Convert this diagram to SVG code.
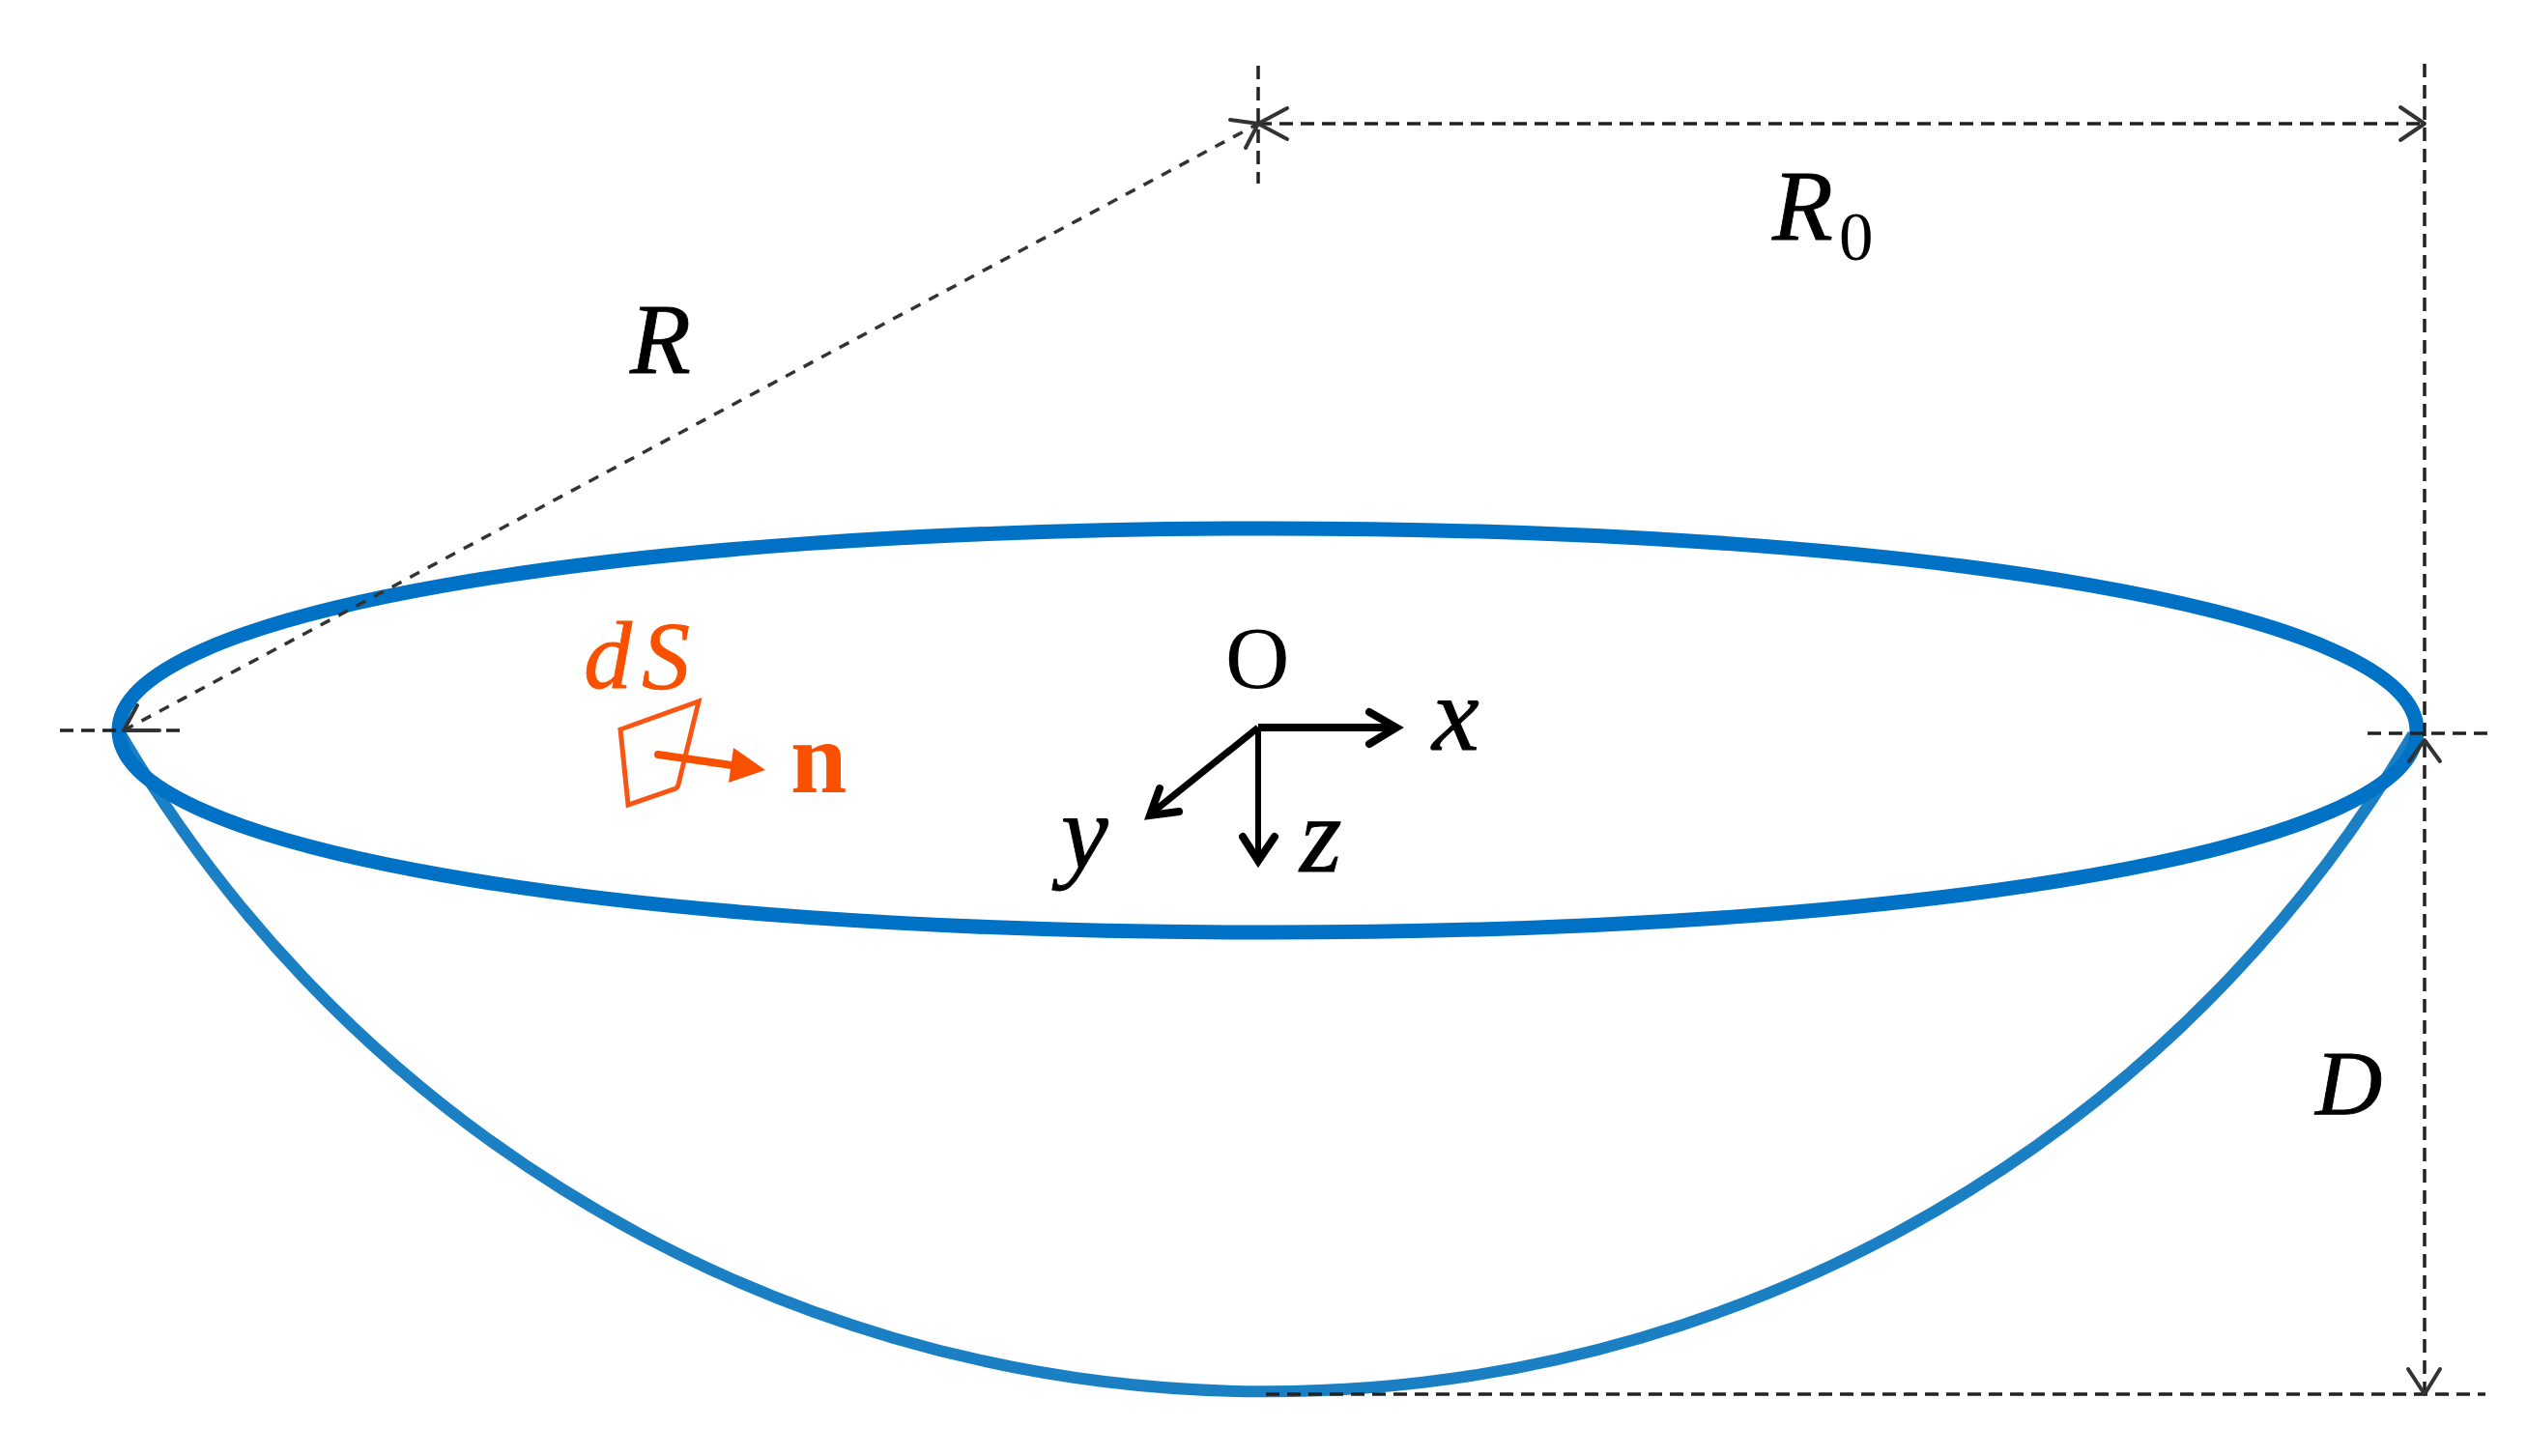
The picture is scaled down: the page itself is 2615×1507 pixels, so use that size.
<svg xmlns="http://www.w3.org/2000/svg" width="2615" height="1507" viewBox="0 0 2615 1507">
<style>
.d{fill:none;stroke:#222;stroke-width:3.5;stroke-dasharray:14 8}
.r{fill:none;stroke:#333;stroke-width:3.5;stroke-dasharray:11 10}
.h{fill:none;stroke:#333;stroke-width:4;stroke-linecap:round;stroke-linejoin:round}
.a{fill:none;stroke:#000}
.ah{fill:none;stroke:#000;stroke-width:8;stroke-linecap:round;stroke-linejoin:miter}
.t{font-family:"Liberation Serif",serif;font-style:italic;fill:#000;stroke:#000;stroke-width:.8}
.u{font-family:"Liberation Serif",serif;fill:#000}
</style>
<rect width="2615" height="1507" fill="#fff"/>
<g id="bowl"><path d="M125 760A1374 1374 0 0 0 2497 760" fill="none" stroke="#1b80c3" stroke-width="12"/></g>
<g id="rim"><path d="M123 756C123 635 622 547 1312 547C2002 547 2501 635 2501 756C2501 877 2002 965 1312 965C622 965 123 877 123 756Z" fill="none" stroke="#0072c6" stroke-width="15"/></g>
<g id="connectors">
<path class="d" d="M1302 68V190"/>
<path class="d" d="M1302 128H2509"/>
<path class="d" d="M2509 66V1443"/>
<path class="d" d="M1310 1443H2572"/>
<path class="r" d="M128 756L1302 128"/>
<path class="d" d="M62 756H186"/>
<path class="d" d="M2450 759H2576"/>
<path class="h" d="M1273 124L1302 128L1289 153M1332 112L1302 128L1332 144"/>
<path class="h" d="M2484 111L2509 128L2484 145"/>
<path class="h" d="M2492 1417L2509 1443L2525 1417"/>
<path class="h" d="M2493 788L2509 766L2525 788"/>
<path class="h" d="M142 730L128 756L165 756"/>
</g>
<g id="surface">
<path d="M642 755L723 726L702 812Q701 816 697 817L650 833Z" fill="none" stroke="#fa5414" stroke-width="5"/>
<path d="M681 781L757 792" fill="none" stroke="#f95000" stroke-width="8" stroke-linecap="round"/>
<path d="M759 774L792 797L754 810Z" fill="#f95000"/>
</g>
<g id="axes">
<path class="a" stroke-width="8" d="M1302 753H1445"/>
<path class="ah" d="M1417 737L1445 753L1417 770"/>
<path class="a" stroke-width="6" d="M1302 753V890"/>
<path class="ah" d="M1286 866L1302 891L1319 866"/>
<path class="a" stroke-width="7" d="M1302 753L1190 843"/>
<path class="ah" d="M1200 816L1190 844L1220 840"/>
</g>
<g id="labels">
<text class="t" x="652" y="386" font-size="103">R</text>
<text class="t" x="1834" y="248" font-size="103">R</text>
<text class="u" x="1903" y="269" font-size="71">0</text>
<text class="t" x="604" y="712" font-size="100" letter-spacing="10" style="fill:#f95000;stroke:#f95000">dS</text>
<text class="u" x="818" y="820" font-weight="700" font-size="105" style="fill:#f95000">n</text>
<text class="u" x="1268" y="712" font-size="92">O</text>
<text class="t" x="1482" y="776" font-size="110">x</text>
<text class="t" x="1098" y="899" font-size="110">y</text>
<text class="t" x="1345" y="902" font-size="112">z</text>
<text class="t" x="2396" y="1154" font-size="96">D</text>
</g>
</svg>
